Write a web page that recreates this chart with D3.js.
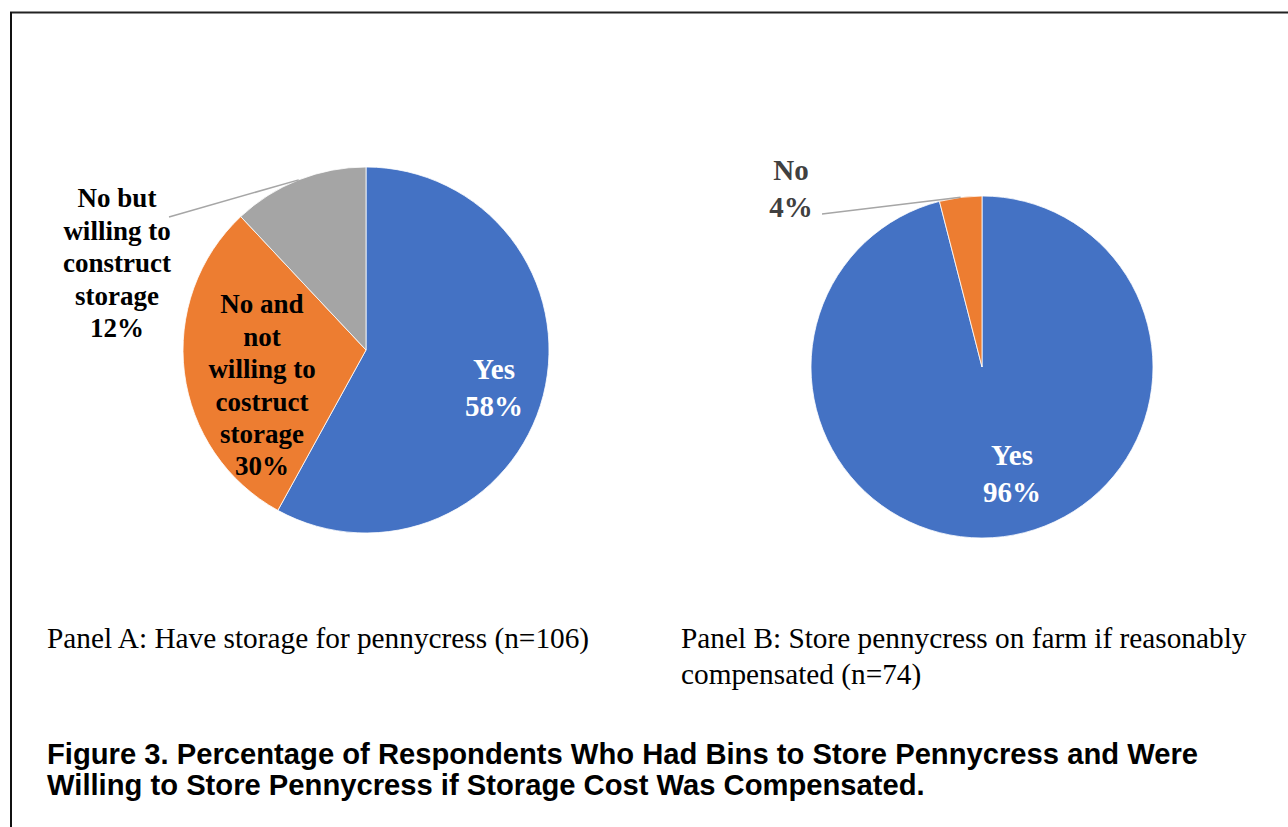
<!DOCTYPE html>
<html>
<head>
<meta charset="utf-8">
<script src="https://cdn.jsdelivr.net/npm/d3@7/dist/d3.min.js"></script>
<style>
  html, body { margin: 0; padding: 0; background: #fff; }
  svg { display: block; }
</style>
</head>
<body>
<svg id="chart" width="1288" height="827"></svg>
<script>
// ---- Data ----
const panelACategories = ["Yes", "No and not willing to costruct storage", "No but willing to construct storage"];
const panelAValues = [58, 30, 12];
const panelBCategories = ["Yes", "No"];
const panelBValues = [96, 4];
const sliceColors = ["#4472C4", "#ED7D31", "#A5A5A5"];
const panelACaption = ["Panel A: Have storage for pennycress (n=106)"];
const panelBCaption = ["Panel B: Store pennycress on farm if reasonably", "compensated (n=74)"];
const titleLines = ["Figure 3. Percentage of Respondents Who Had Bins to Store Pennycress and Were",
                    "Willing to Store Pennycress if Storage Cost Was Compensated."];

// ---- Layout ----
const svg = d3.select("#chart");

// frame
svg.append("line").attr("x1", 10).attr("x2", 1288).attr("y1", 12.5).attr("y2", 12.5)
  .attr("stroke", "#222").attr("stroke-width", 2);
svg.append("line").attr("x1", 11).attr("x2", 11).attr("y1", 12).attr("y2", 827)
  .attr("stroke", "#111").attr("stroke-width", 2);

const serif = "'Liberation Serif', 'Times New Roman', serif";
const sans = "'Liberation Sans', Arial, sans-serif";

function drawPie(cfg) {
  const g = svg.append("g").attr("transform", `translate(${cfg.cx},${cfg.cy})`);
  const data = cfg.values.map((v, i) => ({ cat: cfg.categories[i], value: v, color: sliceColors[i] }));
  const pie = d3.pie().value(d => d.value).sort(null);
  const arcs = pie(data);
  const arc = d3.arc().innerRadius(0).outerRadius(cfg.r);
  g.selectAll("path.slice").data(arcs).join("path")
    .attr("class", "slice")
    .attr("d", arc)
    .attr("fill", d => d.data.color)
    .attr("stroke", "#fff").attr("stroke-width", 0.8);

  arcs.forEach((a, i) => {
    const lab = cfg.labels[i];
    const lines = lab.lines.concat([a.data.value + "%"]);
    const t = g.append("text")
      .attr("text-anchor", "middle")
      .attr("font-family", serif)
      .attr("font-weight", "bold")
      .attr("font-size", lab.size)
      .attr("fill", lab.color);
    const n = lines.length;
    lines.forEach((ln, k) => {
      t.append("tspan")
        .attr("x", lab.dx)
        .attr("y", lab.dy + (k - (n - 1) / 2) * lab.lh)
        .attr("dy", "0.35em")
        .text(ln);
    });
    if (lab.leader) {
      const mid = (a.startAngle + a.endAngle) / 2;
      const ex = Math.sin(mid) * cfg.r;
      const ey = -Math.cos(mid) * cfg.r;
      g.append("path")
        .attr("d", d3.line()([[lab.leader[0], lab.leader[1]], [ex, ey]]))
        .attr("fill", "none")
        .attr("stroke", "#A6A6A6")
        .attr("stroke-width", 1.5);
    }
  });
}

// Panel A
drawPie({
  cx: 366, cy: 350, r: 183,
  categories: panelACategories, values: panelAValues,
  labels: [
    { lines: ["Yes"], dx: 128, dy: 37, lh: 37, size: 29, color: "#fff" },
    { lines: ["No and", "not", "willing to", "costruct", "storage"], dx: -104, dy: 35, lh: 32.4, size: 27, color: "#000" },
    { lines: ["No but", "willing to", "construct", "storage"], dx: -249, dy: -87, lh: 32.5, size: 27, color: "#000",
      leader: [-197, -133] }
  ]
});

// Panel B
drawPie({
  cx: 982, cy: 367, r: 171,
  categories: panelBCategories, values: panelBValues,
  labels: [
    { lines: ["Yes"], dx: 30, dy: 106, lh: 37, size: 29, color: "#fff" },
    { lines: ["No"], dx: -191, dy: -178.5, lh: 37, size: 29, color: "#404040",
      leader: [-160, -153] }
  ]
});

// captions
function addLines(x, y, lines, lh, font, size, weight) {
  const t = svg.append("text").attr("font-family", font).attr("font-size", size)
    .attr("font-weight", weight).attr("fill", "#000");
  lines.forEach((ln, k) => t.append("tspan").attr("x", x).attr("y", y + k * lh).text(ln));
}
addLines(47, 648, panelACaption, 36, serif, 29.3, "normal");
addLines(681, 648, panelBCaption, 36, serif, 29.3, "normal");
addLines(47, 764, titleLines, 31, sans, 29.2, "bold");
</script>
</body>
</html>
